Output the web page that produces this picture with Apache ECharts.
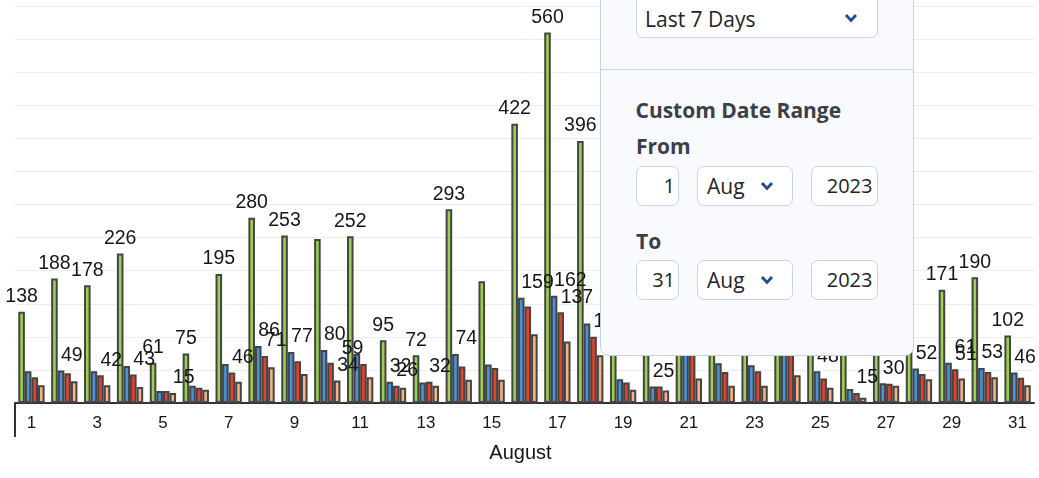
<!DOCTYPE html>
<html>
<head>
<meta charset="utf-8">
<script src="https://cdn.jsdelivr.net/npm/echarts@6/dist/echarts.min.js"></script>
<style>
html,body{margin:0;padding:0;background:#fff;width:1039px;height:478px;overflow:hidden;position:relative;}
#chart{position:absolute;left:0;top:0;width:1039px;height:478px;}
.ov{position:absolute;box-sizing:border-box;}
.panel{left:600px;top:-30px;width:314px;height:386px;background:#f8fafd;border:1px solid #c4d3e6;border-radius:0 0 9px 9px;}
.divider{left:601px;top:69px;width:312px;height:1px;background:#c4d3e6;}
.box{background:#fff;border:1px solid #c6d5e7;border-radius:7px;}
.t{font-family:'Open Sans',sans-serif;font-size:21px;line-height:20px;white-space:nowrap;color:#1f2328;}
.d{font-size:20px;}
.b{font-weight:700;color:#3b4048;}
.r{text-align:right;}
.chev{width:14px;height:10px;}
</style>
</head>
<body>
<div id="chart"></div>

<div class="ov panel"></div>
<div class="ov divider"></div>
<div class="ov box" style="left:636px;top:-20px;width:242px;height:58px;"></div>
<div class="ov t" style="left:645px;top:9px;">Last 7 Days</div>
<svg class="ov chev" style="left:844px;top:13px;" viewBox="0 0 14 10"><polyline points="2,2 7,7.5 12,2" fill="none" stroke="#1f4e8c" stroke-width="2.8"/></svg>

<div class="ov t b" style="left:635.5px;top:99.5px;">Custom Date Range</div>
<div class="ov t b" style="left:636px;top:136px;">From</div>
<div class="ov box" style="left:636px;top:166px;width:43px;height:39.5px;"></div>
<div class="ov t d r" style="left:640px;top:175.5px;width:35px;">1</div>
<div class="ov box" style="left:697px;top:166px;width:96px;height:39.5px;"></div>
<div class="ov t" style="left:707px;top:175.5px;">Aug</div>
<svg class="ov chev" style="left:760px;top:180.5px;" viewBox="0 0 14 10"><polyline points="2,2 7,7.5 12,2" fill="none" stroke="#1f4e8c" stroke-width="2.8"/></svg>
<div class="ov box" style="left:811px;top:166px;width:67px;height:39.5px;"></div>
<div class="ov t d r" style="left:812px;top:175.5px;width:60.5px;">2023</div>

<div class="ov t b" style="left:636px;top:230.5px;">To</div>
<div class="ov box" style="left:636px;top:260px;width:43px;height:39.5px;"></div>
<div class="ov t d r" style="left:640px;top:269.5px;width:35px;">31</div>
<div class="ov box" style="left:697px;top:260px;width:96px;height:39.5px;"></div>
<div class="ov t" style="left:707px;top:269.5px;">Aug</div>
<svg class="ov chev" style="left:760px;top:274.5px;" viewBox="0 0 14 10"><polyline points="2,2 7,7.5 12,2" fill="none" stroke="#1f4e8c" stroke-width="2.8"/></svg>
<div class="ov box" style="left:811px;top:260px;width:67px;height:39.5px;"></div>
<div class="ov t d r" style="left:812px;top:269.5px;width:60.5px;">2023</div>

<script>
// ---- data ----
const days = ['1','2','3','4','5','6','7','8','9','10','11','12','13','14','15','16',
              '17','18','19','20','21','22','23','24','25','26','27','28','29','30','31'];
const axisName = 'August';
const greenVals = [138,188,178,226,61,75,195,280,253,248,252,95,72,293,184,422,560,396,115,88,300,215,205,320,175,90,100,172,171,190,102];
const blueVals  = [48,49,48,56,18,26,59,86,77,80,74,32,31,74,58,159,162,120,36,25,105,60,57,98,48,21,30,52,61,53,46];
const redVals   = [39,45,42,43,18,23,46,71,63,61,59,26,32,55,53,146,137,100,31,25,92,47,48,85,37,15,29,44,51,47,38];
const peachVals = [27,33,27,24,15,20,32,54,44,34,39,23,26,35,35,104,93,72,20,19,37,26,26,42,23,8,26,36,37,39,27];
// days whose value label is visible
const greenLabelDays = [1,2,3,4,5,6,7,8,9,11,12,13,14,16,17,18,29,30,31];
const blueLabelDays  = [2,8,9,10,12,14,16,17,20,25,27,28,29,30,31];
const redLabelDays   = [3,4,7,8,11,12,13,17,18,26,29];
const peachLabelDays = [5,10];

// ---- label tweaks (text placement only) ----
const labelTweaks = { 'red-11': {align:'right'}, 'blue-29': {offset:[6,0]} };

const FONT = "'Liberation Sans', Arial, Helvetica, sans-serif";
const GRID = { left: 15, right: 5, top: 6, bottom: 75 };

function mkSeries(key, vals, color, labelDays, align) {
  return {
    type: 'bar',
    name: key,
    barGap: '0%',
    barCategoryGap: '20%',
    itemStyle: { color: color, borderColor: '#444', borderWidth: 2 },
    label: { show: false, position: 'top', distance: 5, align: align,
             color: '#161616', fontSize: 19.5, fontFamily: FONT },
    emphasis: { disabled: true },
    data: vals.map((v, i) => {
      const tw = labelTweaks[key + '-' + (i + 1)] || {};
      return { value: v, label: Object.assign({ show: labelDays.includes(i + 1) }, tw) };
    })
  };
}

const H = 478;
const chart = echarts.init(document.getElementById('chart'), null, { renderer: 'canvas' });
chart.setOption({
  animation: false,
  grid: Object.assign({ containLabel: false, outerBoundsMode: 'none' }, GRID),
  graphic: [{
    type: 'line', silent: true,
    shape: { x1: GRID.left, y1: H - GRID.bottom, x2: GRID.left, y2: H - GRID.bottom + 34 },
    style: { stroke: '#333', lineWidth: 2 }
  }],
  xAxis: {
    type: 'category',
    data: days,
    boundaryGap: true,
    name: axisName,
    nameLocation: 'middle',
    nameGap: 40,
    nameTextStyle: { fontSize: 20, color: '#161616', fontFamily: FONT, padding: [0, 8, 0, 0] },
    axisLine: { lineStyle: { color: '#333', width: 2 } },
    axisTick: { show: false },
    axisLabel: { interval: 1, margin: 12, fontSize: 17, color: '#161616', fontFamily: FONT }
  },
  yAxis: {
    type: 'value', min: 0, max: 600, interval: 50,
    axisLabel: { show: false }, axisLine: { show: false }, axisTick: { show: false },
    splitLine: { lineStyle: { color: '#ececec', width: 1 } }
  },
  series: [
    mkSeries('green', greenVals, '#9bd14f', greenLabelDays, 'center'),
    mkSeries('blue',  blueVals,  '#4793dc', blueLabelDays, 'left'),
    mkSeries('red',   redVals,   '#e8412a', redLabelDays, 'left'),
    mkSeries('peach', peachVals, '#f3b48a', peachLabelDays, 'left')
  ]
});
</script>
</body>
</html>
